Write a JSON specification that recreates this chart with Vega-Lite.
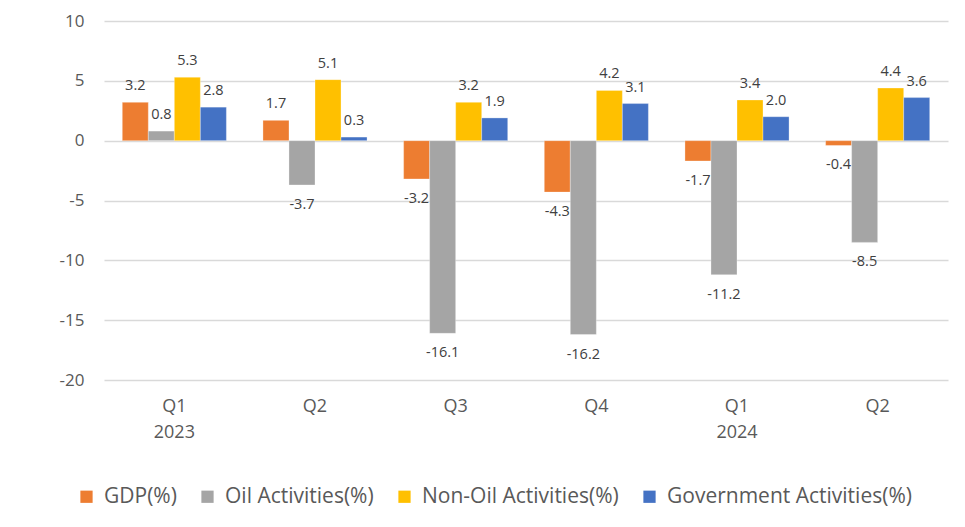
{
  "$schema": "https://vega.github.io/schema/vega-lite/v6.json",
  "width": 844,
  "height": 359,
  "autosize": {"type": "none"},
  "padding": {"left": 104, "top": 21, "right": 17, "bottom": 147},
  "background": "white",
  "config": {
    "view": {"stroke": null},
    "font": "Open Sans",
    "axis": {"labelFont": "Open Sans", "labelColor": "#595959"},
    "legend": {"labelFont": "Open Sans"}
  },
  "data": {
    "values": [
      {"quarter": "Q1 2023", "series": "GDP(%)", "value": 3.2},
      {"quarter": "Q1 2023", "series": "Oil Activities(%)", "value": 0.8},
      {"quarter": "Q1 2023", "series": "Non-Oil Activities(%)", "value": 5.3},
      {"quarter": "Q1 2023", "series": "Government Activities(%)", "value": 2.8},
      {"quarter": "Q2 2023", "series": "GDP(%)", "value": 1.7},
      {"quarter": "Q2 2023", "series": "Oil Activities(%)", "value": -3.7},
      {"quarter": "Q2 2023", "series": "Non-Oil Activities(%)", "value": 5.1},
      {"quarter": "Q2 2023", "series": "Government Activities(%)", "value": 0.3},
      {"quarter": "Q3 2023", "series": "GDP(%)", "value": -3.2},
      {"quarter": "Q3 2023", "series": "Oil Activities(%)", "value": -16.1},
      {"quarter": "Q3 2023", "series": "Non-Oil Activities(%)", "value": 3.2},
      {"quarter": "Q3 2023", "series": "Government Activities(%)", "value": 1.9},
      {"quarter": "Q4 2023", "series": "GDP(%)", "value": -4.3},
      {"quarter": "Q4 2023", "series": "Oil Activities(%)", "value": -16.2},
      {"quarter": "Q4 2023", "series": "Non-Oil Activities(%)", "value": 4.2},
      {"quarter": "Q4 2023", "series": "Government Activities(%)", "value": 3.1},
      {"quarter": "Q1 2024", "series": "GDP(%)", "value": -1.7},
      {"quarter": "Q1 2024", "series": "Oil Activities(%)", "value": -11.2},
      {"quarter": "Q1 2024", "series": "Non-Oil Activities(%)", "value": 3.4},
      {"quarter": "Q1 2024", "series": "Government Activities(%)", "value": 2.0},
      {"quarter": "Q2 2024", "series": "GDP(%)", "value": -0.4},
      {"quarter": "Q2 2024", "series": "Oil Activities(%)", "value": -8.5},
      {"quarter": "Q2 2024", "series": "Non-Oil Activities(%)", "value": 4.4},
      {"quarter": "Q2 2024", "series": "Government Activities(%)", "value": 3.6}
    ]
  },
  "transform": [
    {"calculate": "(datum.value < 0 ? '-' : '') + format(abs(datum.value), '.1f')", "as": "label"}
  ],
  "encoding": {
    "x": {
      "field": "quarter",
      "type": "nominal",
      "sort": null,
      "scale": {"paddingInner": 0.26, "paddingOuter": 0.13},
      "axis": {
        "title": null,
        "labelAngle": 0,
        "domain": false,
        "ticks": false,
        "labelFontSize": 18,
        "labelPadding": 17,
        "labelLineHeight": 26,
        "labelExpr": "datum.value == 'Q1 2023' ? ['Q1', '2023'] : (datum.value == 'Q1 2024' ? ['Q1', '2024'] : [slice(datum.value, 0, 2)])"
      }
    },
    "xOffset": {
      "field": "series",
      "type": "nominal",
      "scale": {"domain": ["GDP(%)", "Oil Activities(%)", "Non-Oil Activities(%)", "Government Activities(%)"], "paddingInner": 0, "paddingOuter": 0}
    },
    "y": {
      "field": "value",
      "type": "quantitative",
      "scale": {"domain": [-20, 10], "nice": false},
      "axis": {
        "title": null,
        "values": [-20, -15, -10, -5, 0, 5, 10],
        "domain": false,
        "ticks": false,
        "gridColor": "#d9d9d9",
        "gridWidth": 1.3,
        "labelFontSize": 17,
        "labelPadding": 20,
        "labelExpr": "datum.value < 0 ? '-' + abs(datum.value) : '' + datum.value"
      }
    }
  },
  "layer": [
    {
      "mark": {"type": "bar", "stroke": "white", "strokeWidth": 0.5, "strokeOpacity": 0.6},
      "encoding": {
        "color": {
          "field": "series",
          "type": "nominal",
          "scale": {
            "domain": ["GDP(%)", "Oil Activities(%)", "Non-Oil Activities(%)", "Government Activities(%)"],
            "range": ["#ED7D31", "#A5A5A5", "#FFC000", "#4472C4"]
          },
          "legend": {
            "title": null,
            "orient": "none",
            "direction": "horizontal",
            "legendX": -28,
            "legendY": 465,
            "symbolType": "square",
            "symbolSize": 150,
            "symbolStrokeWidth": 0,
            "labelFontSize": 21,
            "labelLimit": 0,
            "labelColor": "#595959",
            "labelOffset": 7,
            "columnPadding": 20
          }
        }
      }
    },
    {
      "transform": [{"filter": "datum.value >= 0"}],
      "mark": {"type": "text", "baseline": "bottom", "dy": -9, "fontSize": 14.5, "color": "#404040"},
      "encoding": {"text": {"field": "label", "type": "nominal"}}
    },
    {
      "transform": [{"filter": "datum.value < 0"}],
      "mark": {"type": "text", "baseline": "top", "dy": 13, "fontSize": 14.5, "color": "#404040"},
      "encoding": {"text": {"field": "label", "type": "nominal"}}
    }
  ]
}
